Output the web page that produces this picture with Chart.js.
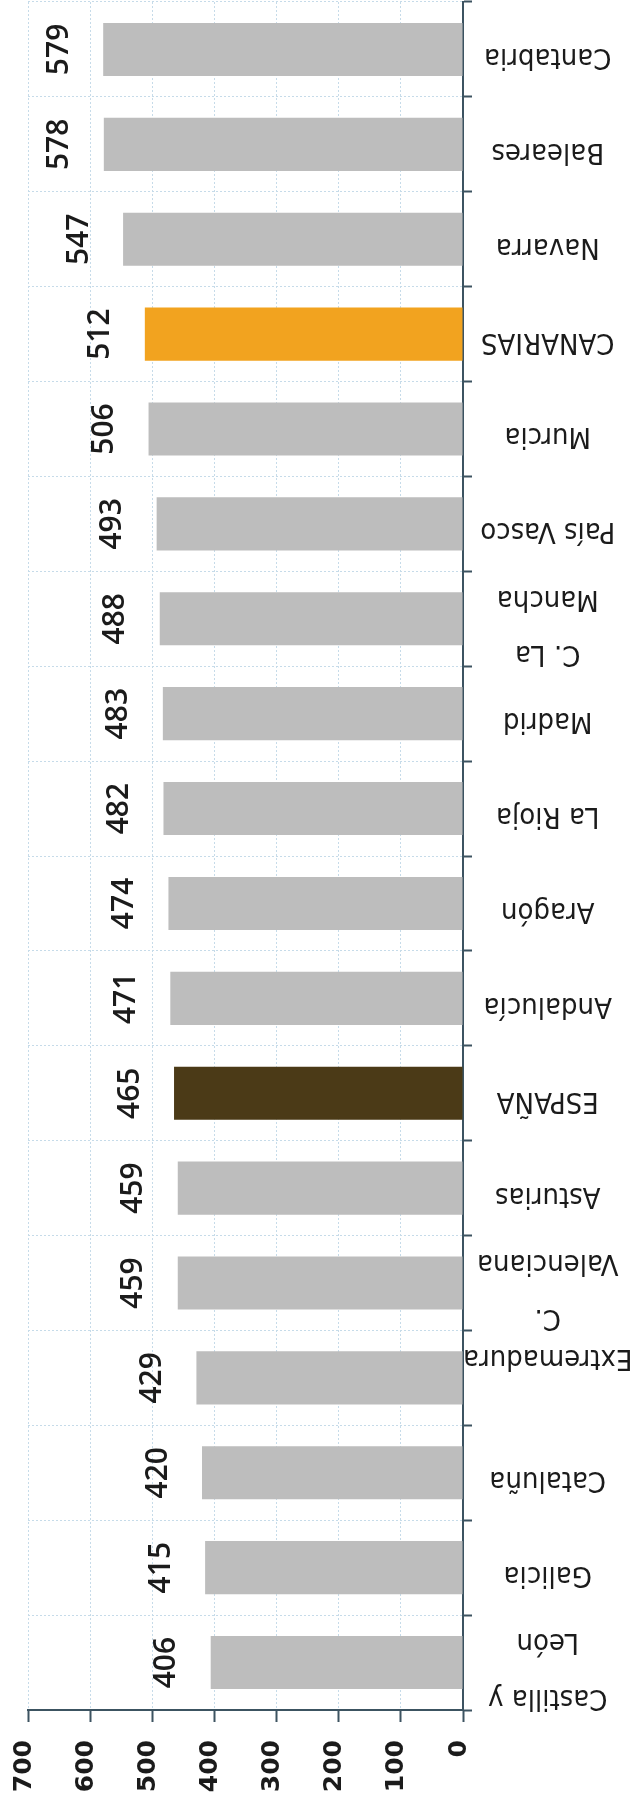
<!DOCTYPE html>
<html>
<head>
<meta charset="utf-8">
<script src="https://cdn.jsdelivr.net/npm/chart.js@4.4.0/dist/chart.umd.min.js"></script>
<style>
  html, body { margin: 0; padding: 0; background: #fff; }
  #wrap { width: 632px; height: 1809px; }
</style>
</head>
<body>
<div id="wrap"><canvas id="chart" width="632" height="1809"></canvas></div>
<script>
// comunidades, de menor a mayor (abajo -> arriba)
const regiones = [['Castilla y', 'León'], 'Galicia', 'Cataluña', ['', 'Extremadura'], ['C.', 'Valenciana'],
  'Asturias', 'ESPAÑA', 'Andalucía', 'Aragón', 'La Rioja', 'Madrid', ['C. La', 'Mancha'],
  'País Vasco', 'Murcia', 'CANARIAS', 'Navarra', 'Baleares', 'Cantabria'];
const valores = [406, 415, 420, 429, 459, 459, 465, 471, 474, 482, 483, 488, 493, 506, 512, 547, 578, 579];
const ejeValores = [0, 100, 200, 300, 400, 500, 600, 700];

const colores = regiones.map(r => r === 'ESPAÑA' ? '#4b3a17' : (r === 'CANARIAS' ? '#f2a31f' : '#bdbdbd'));

const colorEje = '#3c5361';
const colorRejilla = '#c6dbe9';

// valores encima de cada barra, girados
const etiquetas = {
  id: 'etiquetas',
  afterDatasetsDraw(chart) {
    const ctx = chart.ctx;
    const meta = chart.getDatasetMeta(0);
    ctx.save();
    ctx.font = '600 30px "Open Sans"';
    ctx.fillStyle = '#1b1b1b';
    ctx.textAlign = 'center';
    ctx.textBaseline = 'middle';
    meta.data.forEach((bar, i) => {
      ctx.save();
      ctx.translate(bar.x - 44, bar.y);
      ctx.rotate(-Math.PI / 2);
      ctx.fillText(valores[i], 0, 0);
      ctx.restore();
    });
    ctx.restore();
  }
};

new Chart(document.getElementById('chart'), {
  type: 'bar',
  data: {
    labels: regiones,
    datasets: [{
      data: valores,
      backgroundColor: colores,
      barPercentage: 0.56,
      categoryPercentage: 1
    }]
  },
  options: {
    indexAxis: 'y',
    responsive: false,
    animation: false,
    layout: { padding: { top: 2, left: 28, right: 0, bottom: 0 } },
    plugins: {
      legend: { display: false },
      tooltip: { enabled: false }
    },
    scales: {
      x: {
        reverse: true,
        min: ejeValores[0],
        max: ejeValores[ejeValores.length - 1],
        ticks: {
          stepSize: ejeValores[1] - ejeValores[0],
          minRotation: 90,
          maxRotation: 90,
          padding: 18,
          labelOffset: -4,
          color: '#1b1b1b',
          font: { family: 'DejaVu Sans', weight: 'bold', size: 25 }
        },
        grid: { color: colorRejilla, lineWidth: 1, tickLength: 12, tickColor: colorEje, tickWidth: 2, tickBorderDash: [] },
        border: { display: true, color: colorEje, width: 2, dash: [2, 2] },
        afterFit(s) { s.height = 99; s.paddingLeft = 0; s.paddingRight = 0; }
      },
      y: {
        position: 'right',
        reverse: true,
        ticks: {
          autoSkip: false,
          minRotation: 180,
          maxRotation: 180,
          crossAlign: 'center',
          padding: -9,
          labelOffset: 7,
          color: '#1b1b1b',
          font: { family: "'DejaVu Sans Condensed', 'DejaVu Sans', sans-serif", size: 29, lineHeight: 1.9 }
        },
        grid: { color: colorRejilla, lineWidth: 1, tickLength: 9, tickColor: colorEje, tickWidth: 2, tickBorderDash: [] },
        border: { display: true, color: colorEje, width: 2, dash: [2, 2] },
        afterFit(s) { s.width = 169; s.paddingTop = 0; s.paddingBottom = 0; }
      }
    }
  },
  plugins: [etiquetas]
});
</script>
</body>
</html>
